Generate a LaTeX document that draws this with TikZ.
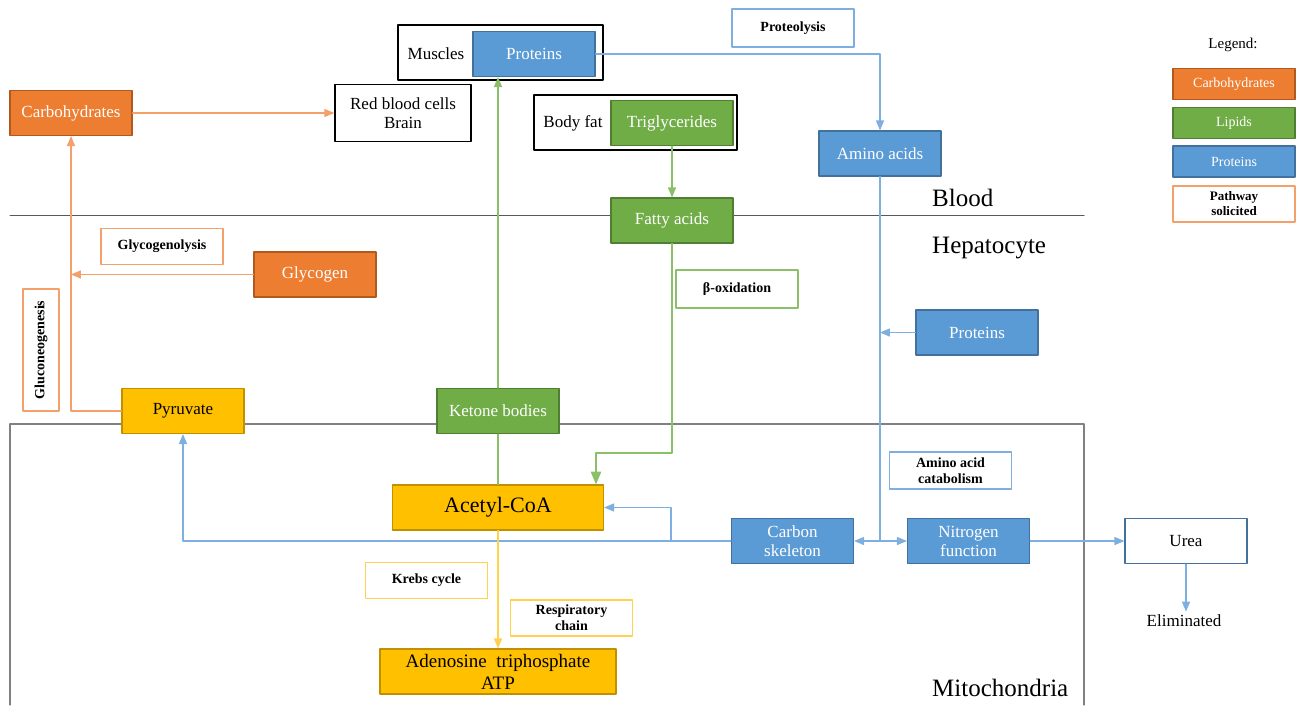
\documentclass[tikz,border=0pt]{standalone}
\usepackage{fontspec}
\setmainfont{Liberation Serif}
\usepackage{tikz}
\usetikzlibrary{arrows}
\definecolor{carbo}{HTML}{ED7D31}
\definecolor{carbodark}{HTML}{B05A1E}
\definecolor{carbolight}{HTML}{F4A06A}
\definecolor{lipid}{HTML}{70AD47}
\definecolor{lipiddark}{HTML}{507E32}
\definecolor{lipidlight}{HTML}{8CC068}
\definecolor{prot}{HTML}{5B9BD5}
\definecolor{protdark}{HTML}{41719C}
\definecolor{protlight}{HTML}{7DB0E0}
\definecolor{energy}{HTML}{FFC000}
\definecolor{energydark}{HTML}{C09000}
\definecolor{energylight}{HTML}{FFD24D}
\definecolor{frame}{HTML}{595959}

\begin{document}
\begin{tikzpicture}[line cap=round,line join=round,>=triangle 45,x=1pt,y=-1pt,
  box/.style={draw,line width=1.3pt,minimum width=122pt,minimum height=45pt,inner sep=1pt,align=center,font=\fontsize{17}{19}\selectfont},
  carbobox/.style={box,fill=carbo,draw=carbodark,text=white},
  lipidbox/.style={box,fill=lipid,draw=lipiddark,text=white},
  protbox/.style={box,fill=prot,draw=protdark,text=white},
  energybox/.style={box,fill=energy,draw=energydark,text=black},
  pathbox/.style={draw,fill=white,line width=1.3pt,minimum width=122pt,minimum height=36pt,inner sep=1pt,align=center,font=\bfseries\fontsize{14}{16}\selectfont},
  legbox/.style={box,minimum height=31pt,font=\fontsize{14}{16}\selectfont},
  region/.style={anchor=base west,inner sep=0pt,font=\fontsize{25}{27}\selectfont},
  carboline/.style={draw=carbolight,line width=1.3pt},
  lipidline/.style={draw=lipidlight,line width=1.3pt},
  protline/.style={draw=protlight,line width=1.3pt},
  energyline/.style={draw=energylight,line width=1.3pt}]
\useasboundingbox (0,0) rectangle (1301,705);

% compartments
\draw[frame,line width=1pt] (10,215) -- (1084,215);
\draw[gray,line width=1.2pt] (10,705) -- (10,424) -- (1084,424) -- (1084,705);
\node[region] (blood) at (932,206) {Blood};
\node[region] (hepato) at (932,253) {Hepatocyte};
\node[region] (mito) at (932,696) {Mitochondria};

% blood
\node[draw,line width=1.5pt,minimum width=205pt,minimum height=55pt] (muscles) at (500.5,52.5) {};
\node[font=\fontsize{17}{19}\selectfont] (musclestxt) at (436,54) {Muscles};
\node[protbox] (protM) at (534,54) {Proteins};
\node[draw,line width=1.5pt,minimum width=203pt,minimum height=55pt] (bodyfat) at (635.5,122.5) {};
\node[font=\fontsize{17}{19}\selectfont] (bodyfattxt) at (573,123) {Body fat};
\node[lipidbox] (trig) at (672,123) {Triglycerides};
\node[carbobox] (carbo) at (71,113) {Carbohydrates};
\node[box,minimum width=136pt,minimum height=57pt,line width=1.5pt] (rbc) at (403,113) {Red blood cells\\Brain};
\node[pathbox,draw=protlight,minimum height=38pt] (proteolysis) at (793,28) {Proteolysis};
\node[protbox] (amino) at (880,153.5) {Amino acids};

% hepatocyte
\node[lipidbox] (fatty) at (672,220.5) {Fatty acids};
\node[pathbox,draw=carbolight] (glycolysis) at (162,246.5) {Glycogenolysis};
\node[carbobox] (glycogen) at (315,274.5) {Glycogen};
\node[pathbox,draw=carbolight,rotate=90] (gluco) at (41,350) {Gluconeogenesis};
\node[pathbox,draw=lipidlight,minimum height=38pt] (betaox) at (737,289) {β-oxidation};
\node[protbox] (protH) at (977,332.5) {Proteins};
\node[energybox] (pyr) at (183,411) {Pyruvate};
\node[lipidbox] (ketone) at (498,411) {Ketone bodies};

% mitochondria
\node[pathbox,draw=protlight,minimum height=37pt] (aacat) at (950.5,470.5) {Amino acid\\catabolism};
\node[energybox,minimum width=211pt,font=\fontsize{22}{24}\selectfont] (acetyl) at (498,507.5) {Acetyl-CoA};
\node[protbox] (carbon) at (792.5,541) {Carbon\\skeleton};
\node[protbox] (nitro) at (968.5,541) {Nitrogen\\function};
\node[box,draw=protdark,text=black] (urea) at (1186,541) {Urea};
\node[font=\fontsize{17}{19}\selectfont] (elim) at (1184,621) {Eliminated};
\node[pathbox,draw=energylight] (krebs) at (426.5,580.5) {Krebs cycle};
\node[pathbox,draw=energylight] (resp) at (571.5,618) {Respiratory\\chain};
\node[energybox,minimum width=236pt,font=\fontsize{19}{22}\selectfont] (atp) at (498,671.5) {Adenosine\ \ triphosphate\\ATP};

% legend
\node[font=\fontsize{15}{17}\selectfont] (legend) at (1233,45) {Legend:};
\node[legbox,fill=carbo,draw=carbodark,text=white] (legcarbo) at (1234,84) {Carbohydrates};
\node[legbox,fill=lipid,draw=lipiddark,text=white] (leglipid) at (1234,123) {Lipids};
\node[legbox,fill=prot,draw=protdark,text=white] (legprot) at (1234,161.5) {Proteins};
\node[pathbox,draw=carbolight,font=\bfseries\fontsize{13}{15}\selectfont] (legpath) at (1234,204) {Pathway\\solicited};

% connectors
\draw[carboline,->] (carbo.east) -- (rbc.west);
\draw[carboline,->] (pyr.west) -| (carbo.south);
\draw[carboline,->] (glycogen.west) -- (carbo.south |- glycogen.west);
\draw[lipidline,->] (trig.south) -- (fatty.north);
\draw[lipidline,->] (ketone.north) -- (ketone.north |- protM.south);
\draw[lipidline] (acetyl.north) -- (ketone.south);
\coordinate (bend) at (596,453);
\draw[lipidline,line width=2pt,->] (fatty.south) |- (bend) -- (bend |- acetyl.north);
\draw[protline,->] (protM.east) -| (amino.north);
\coordinate (split) at (880,541);
\draw[protline] (amino.south) -- (split);
\draw[protline,->] (split) -- (carbon.east);
\draw[protline,->] (split) -- (nitro.west);
\draw[protline,->] (protH.west) -- (amino.south |- protH.west);
\draw[protline,->] (carbon.west) -| (pyr.south);
\coordinate (fork) at (671,541);
\draw[protline,->] (fork) |- (acetyl.east);
\draw[protline,->] (nitro.east) -- (urea.west);
\draw[protline,->] (urea.south) -- (urea.south |- elim.north);
\draw[energyline,->] (acetyl.south) -- (atp.north);
\end{tikzpicture}
\end{document}
